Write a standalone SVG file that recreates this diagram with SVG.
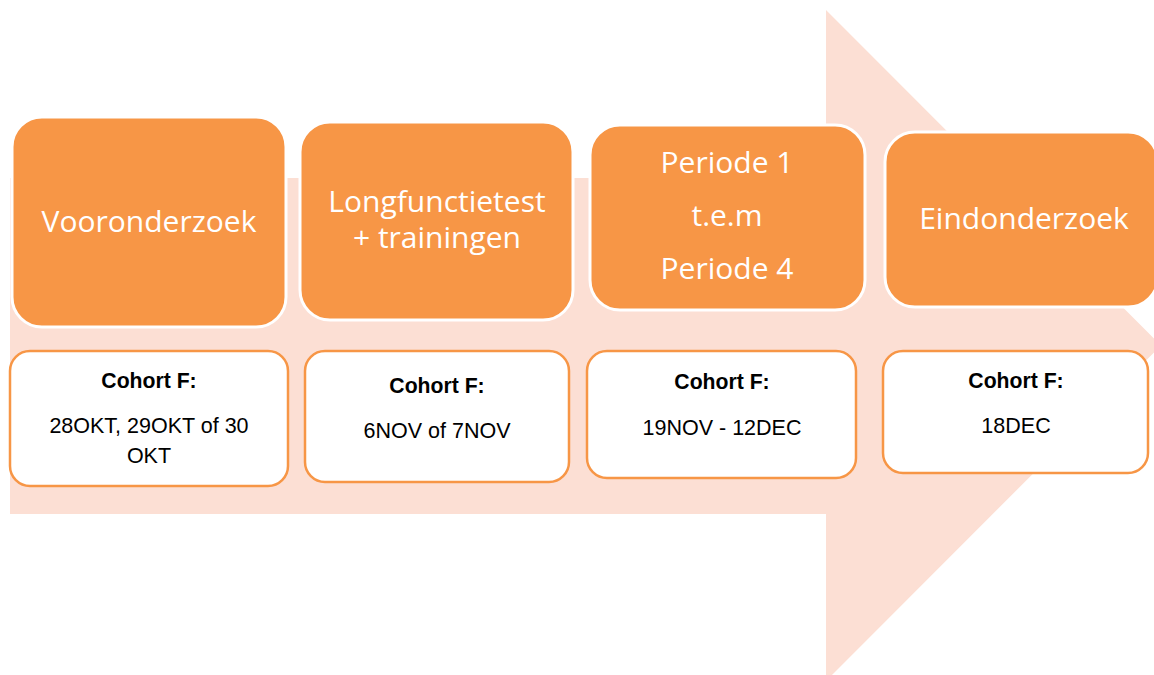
<svg xmlns="http://www.w3.org/2000/svg" width="1154" height="675" viewBox="0 0 1154 675">
<style>
.bg{fill:#FCDFD4}
.step{fill:#F79646;stroke:#FFFFFF;stroke-width:3}
.stepTxt{font-family:"Open Sans","Liberation Sans",sans-serif;font-size:30px;fill:#FFFFFF;text-anchor:middle}
.info{fill:#FFFFFF;stroke:#F79646;stroke-width:2.5}
.h{font-family:"Liberation Sans",Arial,sans-serif;font-size:21.2px;font-weight:bold;fill:#000000;text-anchor:middle}
.t{font-family:"Liberation Sans",Arial,sans-serif;font-size:21.5px;fill:#000000;text-anchor:middle}
</style>
<rect width="1154" height="675" fill="#FFFFFF"/>
<g id="arrow">
<polygon class="bg" points="10,178 826,178 826,10 1161,345.5 826,681 826,514 10,514"/>
</g>
<g id="connectors"></g>
<g id="step1">
<rect class="step" x="12" y="117" width="274" height="210" rx="30"/>
<text class="stepTxt" x="149" y="232">Vooronderzoek</text>
</g>
<g id="step2">
<rect class="step" x="300" y="122" width="273" height="198" rx="30"/>
<text class="stepTxt" x="437" y="212">Longfunctietest</text>
<text class="stepTxt" x="437" y="248">+ trainingen</text>
</g>
<g id="step3">
<rect class="step" x="590" y="125" width="275" height="185" rx="30"/>
<text class="stepTxt" x="727" y="173">Periode 1</text>
<text class="stepTxt" x="727" y="226">t.e.m</text>
<text class="stepTxt" x="727" y="279">Periode 4</text>
</g>
<g id="step4">
<rect class="step" x="885" y="132" width="273" height="175" rx="30"/>
<text class="stepTxt" x="1024" y="229">Eindonderzoek</text>
</g>
<g id="info1">
<rect class="info" x="10" y="351" width="278" height="135" rx="20"/>
<text class="h" x="149" y="388">Cohort F:</text>
<text class="t" x="149" y="433">28OKT, 29OKT of 30</text>
<text class="t" x="149" y="463">OKT</text>
</g>
<g id="info2">
<rect class="info" x="305" y="351" width="264" height="131" rx="20"/>
<text class="h" x="437" y="393">Cohort F:</text>
<text class="t" x="437" y="438">6NOV of 7NOV</text>
</g>
<g id="info3">
<rect class="info" x="587" y="351" width="269" height="127" rx="20"/>
<text class="h" x="722" y="389">Cohort F:</text>
<text class="t" x="722" y="435">19NOV - 12DEC</text>
</g>
<g id="info4">
<rect class="info" x="883" y="351" width="265" height="122" rx="20"/>
<text class="h" x="1016" y="388">Cohort F:</text>
<text class="t" x="1016" y="433">18DEC</text>
</g>
</svg>
